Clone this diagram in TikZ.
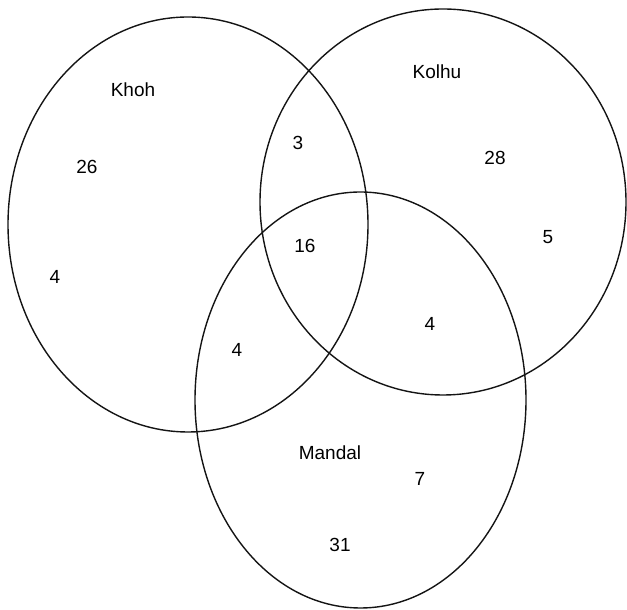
\documentclass[tikz,border=0pt]{standalone}
\usepackage{fontspec}
\setmainfont{Liberation Sans}
\usepackage{xcolor}
\usepackage{tikz}
\definecolor{vennline}{RGB}{20,20,20}

\begin{document}
\begin{tikzpicture}[x=1pt, y=1pt,
  every node/.style={font=\fontsize{19}{19}\selectfont, inner sep=0pt}]
\useasboundingbox (0,0) rectangle (627,610);
\draw[line width=1.4pt, color=vennline] (188,385.5) ellipse [x radius=180, y radius=207.5];
\draw[line width=1.4pt, color=vennline] (443,408) ellipse [x radius=183, y radius=193];
\draw[line width=1.4pt, color=vennline] (360.5,210) ellipse [x radius=165.5, y radius=208];
% set names
\node (khoh) at (133,520) {Khoh};
\node (kolhu) at (437,538) {Kolhu};
\node (mandal) at (330,157) {Mandal};
% counts
\node (khohonly) at (87,443) {26};
\node (khohout) at (55,333) {4};
\node (khohkolhu) at (298,467) {3};
\node (allthree) at (305,364) {16};
\node (kolhuonly) at (495,452) {28};
\node (kolhuout) at (548,373) {5};
\node (khohmandal) at (237,260) {4};
\node (kolhumandal) at (430,286) {4};
\node (mandalin) at (420,131) {7};
\node (mandalonly) at (340,65) {31};
\end{tikzpicture}
\end{document}
